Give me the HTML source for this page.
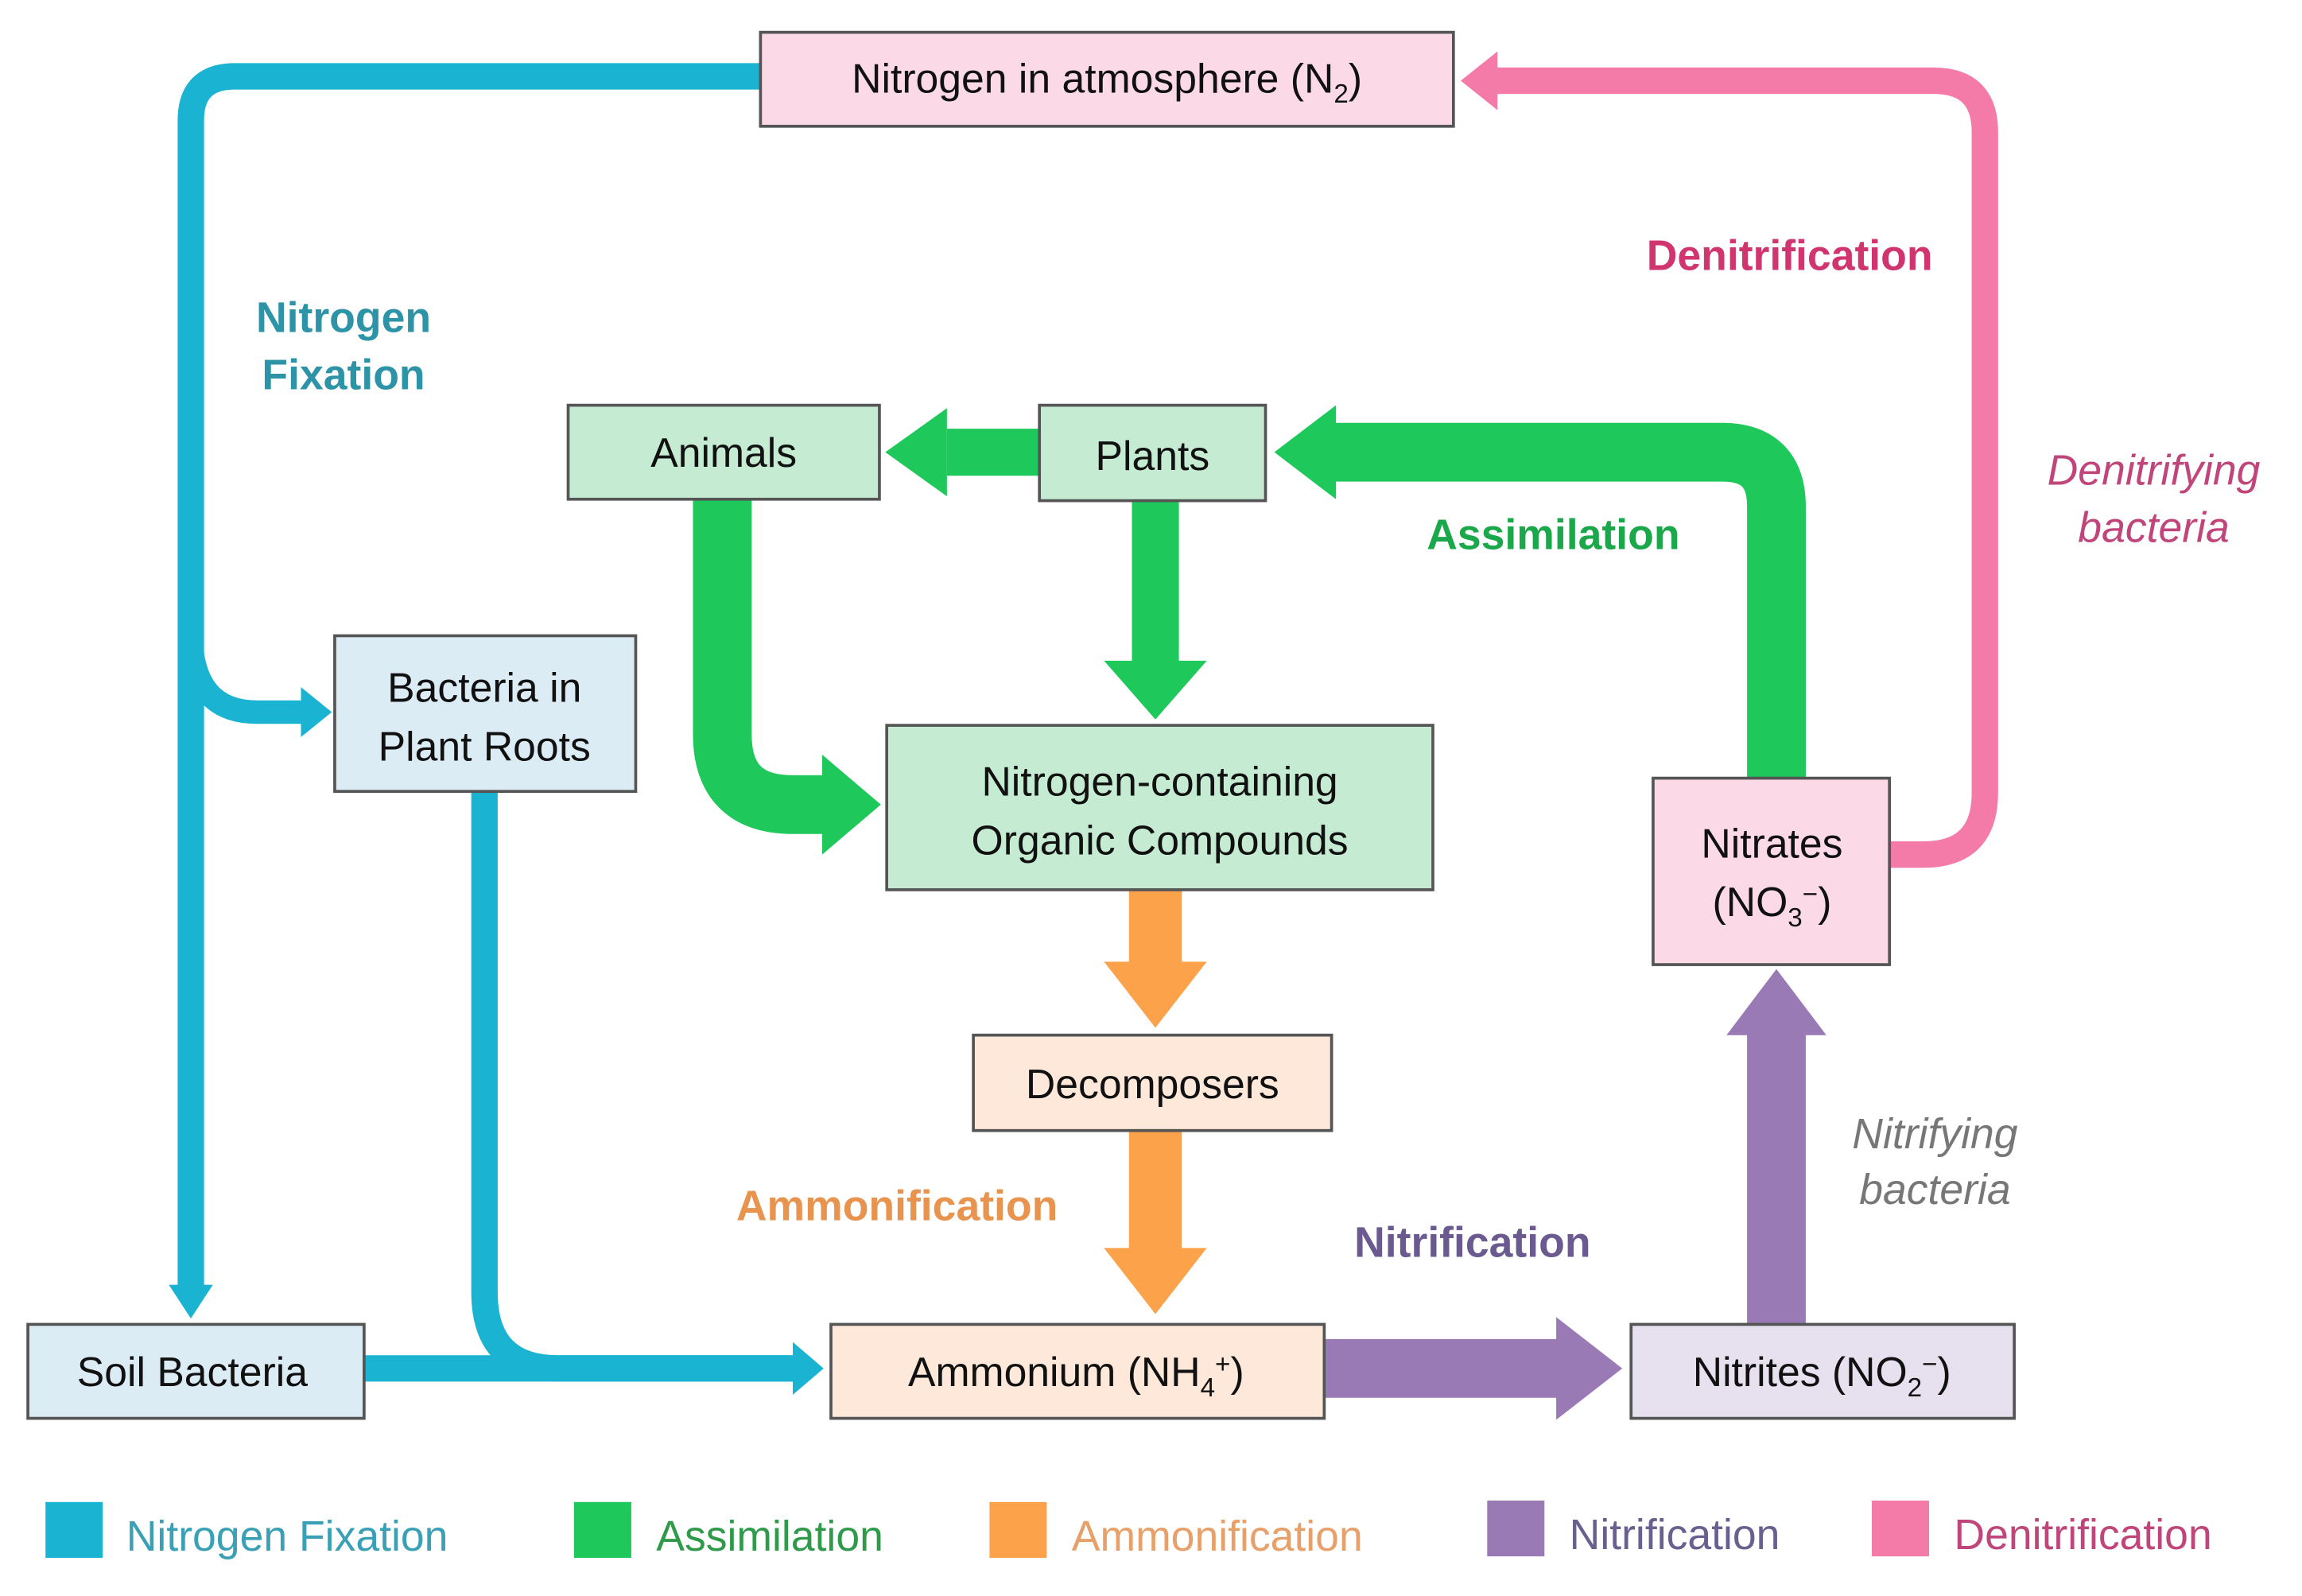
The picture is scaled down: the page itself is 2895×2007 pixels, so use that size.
<!DOCTYPE html>
<html><head><meta charset="utf-8"><style>html,body{margin:0;padding:0;background:#fff}svg{display:block}</style></head>
<body>
<svg width="2895" height="2007" viewBox="0 0 1568 1087" preserveAspectRatio="none" xmlns="http://www.w3.org/2000/svg" font-family="Liberation Sans, sans-serif">
<rect width="1568" height="1087" fill="#fff"/>
<g fill="none" stroke-linecap="butt">
<path d="M518,52 H160 Q130,52 130,82 V878" stroke="#1ab4d2" stroke-width="18"/>
<path d="M130,430 Q130,485 175,485 H207" stroke="#1ab4d2" stroke-width="16"/>
<path d="M330,539 V880 Q330,932 380,932 H542" stroke="#1ab4d2" stroke-width="18"/>
<path d="M248,932 H542" stroke="#1ab4d2" stroke-width="18"/>
<path d="M1287,582 H1310 Q1352,582 1352,540 V90 Q1352,55 1317,55 H1018" stroke="#f47aa8" stroke-width="18"/>
<path d="M1210,530 V345 Q1210,308 1173,308 H905" stroke="#1ec85a" stroke-width="40"/>
<path d="M708,308 H645" stroke="#1ec85a" stroke-width="32"/>
<path d="M787,341 V452" stroke="#1ec85a" stroke-width="32"/>
<path d="M492,340 V500 Q492,548 540,548 H562" stroke="#1ec85a" stroke-width="40"/>
<path d="M787,606 V657" stroke="#fba24a" stroke-width="36"/>
<path d="M787,770 V852" stroke="#fba24a" stroke-width="36"/>
<path d="M902,932 H1062" stroke="#9a7ab5" stroke-width="40"/>
<path d="M1210,902 V703" stroke="#9a7ab5" stroke-width="40"/>
</g>
<polygon points="115,875 145,875 130,898" fill="#1ab4d2"/>
<polygon points="205,468 205,502 226,485" fill="#1ab4d2"/>
<polygon points="540,914 540,950 561,932" fill="#1ab4d2"/>
<polygon points="1020,35 1020,75 995,55" fill="#f47aa8"/>
<polygon points="910,276 910,340 868,308" fill="#1ec85a"/>
<polygon points="645,278 645,338 603,308" fill="#1ec85a"/>
<polygon points="752,450 822,450 787,490" fill="#1ec85a"/>
<polygon points="560,514 560,582 600,548" fill="#1ec85a"/>
<polygon points="752,655 822,655 787,700" fill="#fba24a"/>
<polygon points="752,850 822,850 787,895" fill="#fba24a"/>
<polygon points="1060,897 1060,967 1105,932" fill="#9a7ab5"/>
<polygon points="1176,705 1244,705 1210,660" fill="#9a7ab5"/>
<g stroke="#555" stroke-width="2">
<rect x="518" y="22" width="472" height="64" fill="#fbd9e6"/>
<rect x="387" y="276" width="212" height="64" fill="#c5ecd3"/>
<rect x="708" y="276" width="154" height="65" fill="#c5ecd3"/>
<rect x="228" y="433" width="205" height="106" fill="#dcecf5"/>
<rect x="604" y="494" width="372" height="112" fill="#c5ecd3"/>
<rect x="1126" y="530" width="161" height="127" fill="#fbd9e6"/>
<rect x="663" y="705" width="244" height="65" fill="#fde8da"/>
<rect x="19" y="902" width="229" height="64" fill="#dcecf5"/>
<rect x="566" y="902" width="336" height="64" fill="#fde8da"/>
<rect x="1111" y="902" width="261" height="64" fill="#e6e0ef"/>
</g>
<g font-size="28" fill="#111" text-anchor="middle">
<text x="754" y="63">Nitrogen in atmosphere (N<tspan font-size="18" dy="7">2</tspan><tspan dy="-7">)</tspan></text>
<text x="493" y="318">Animals</text>
<text x="785" y="320">Plants</text>
<text x="330" y="478">Bacteria in</text>
<text x="330" y="518">Plant Roots</text>
<text x="790" y="542">Nitrogen-containing</text>
<text x="790" y="582">Organic Compounds</text>
<text x="1207" y="584">Nitrates</text>
<text x="1207" y="624">(NO<tspan font-size="18" dy="7">3</tspan><tspan font-size="18" dy="-16">−</tspan><tspan dy="9">)</tspan></text>
<text x="785" y="748">Decomposers</text>
<text x="131" y="944">Soil Bacteria</text>
<text x="733" y="944">Ammonium (NH<tspan font-size="18" dy="7">4</tspan><tspan font-size="18" dy="-16">+</tspan><tspan dy="9">)</tspan></text>
<text x="1241" y="944">Nitrites (NO<tspan font-size="18" dy="7">2</tspan><tspan font-size="18" dy="-16">−</tspan><tspan dy="9">)</tspan></text>
</g>
<g font-size="29" font-weight="bold" text-anchor="middle">
<text x="234" y="226" fill="#2c94a6">Nitrogen</text>
<text x="234" y="265" fill="#2c94a6">Fixation</text>
<text x="1219" y="184" fill="#d0356f">Denitrification</text>
<text x="1058" y="374" fill="#1aa84a">Assimilation</text>
<text x="611" y="831" fill="#e8934e">Ammonification</text>
<text x="1003" y="856" fill="#6a5a90">Nitrification</text>
</g>
<g font-size="29" font-style="italic" text-anchor="middle">
<text x="1467" y="330" fill="#c0457a">Denitrifying</text>
<text x="1467" y="369" fill="#c0457a">bacteria</text>
<text x="1318" y="782" fill="#777">Nitrifying</text>
<text x="1318" y="820" fill="#777">bacteria</text>
</g>
<rect x="31" y="1023" width="39" height="38" fill="#1ab4d2"/>
<rect x="391" y="1023" width="39" height="38" fill="#1ec85a"/>
<rect x="674" y="1023" width="39" height="38" fill="#fba24a"/>
<rect x="1013" y="1022" width="39" height="38" fill="#9a7ab5"/>
<rect x="1275" y="1022" width="39" height="38" fill="#f47aa8"/>
<g font-size="29">
<text x="86" y="1056" fill="#3aa0b5">Nitrogen Fixation</text>
<text x="447" y="1056" fill="#2e9a4a">Assimilation</text>
<text x="730" y="1056" fill="#e8a06a">Ammonification</text>
<text x="1069" y="1055" fill="#6a6090">Nitrification</text>
<text x="1331" y="1055" fill="#c0457a">Denitrification</text>
</g>
</svg>
</body></html>
